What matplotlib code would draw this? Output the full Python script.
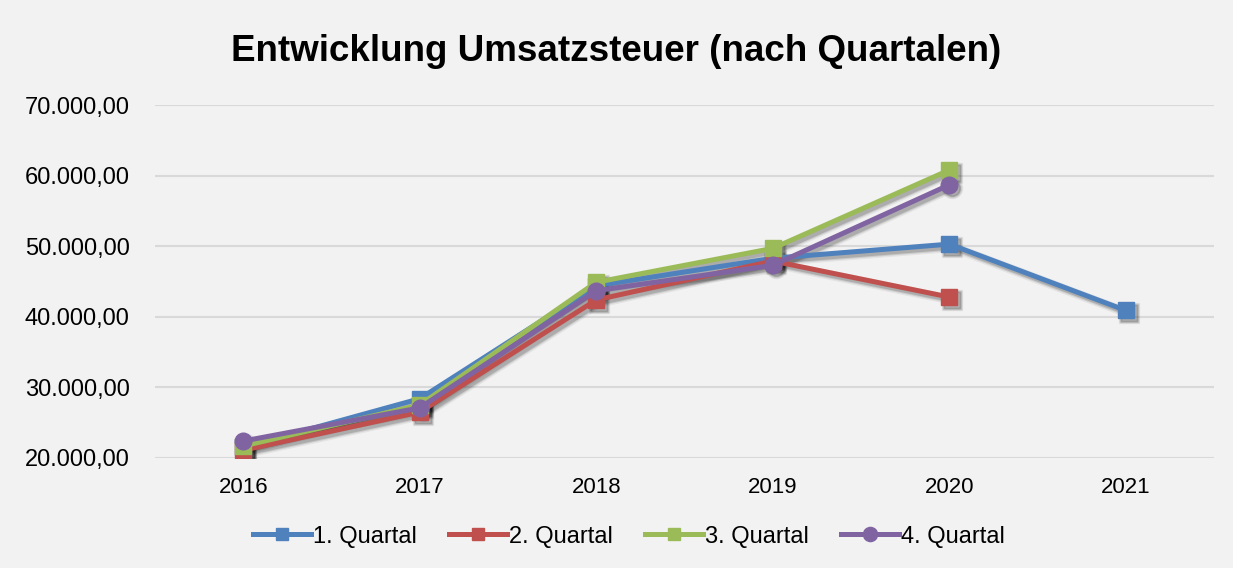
import numpy as np
import matplotlib.pyplot as plt
from matplotlib.transforms import offset_copy
from matplotlib.ticker import FuncFormatter
plt.switch_backend('Agg')

plt.rcParams['font.family'] = ['Liberation Sans', 'DejaVu Sans']

years = ['2016', '2017', '2018', '2019', '2020', '2021']
q1 = [21500, 28400, 44400, 48300, 50300, 40900]
q2 = [21100, 26500, 42400, 47900, 42800]
q3 = [21700, 27500, 44900, 49700, 60800]
q4 = [22400, 27100, 43700, 47300, 58700]

series = [
    ('1. Quartal', q1, '#4f81bd', 's'),
    ('2. Quartal', q2, '#c0504d', 's'),
    ('3. Quartal', q3, '#9bbb59', 's'),
    ('4. Quartal', q4, '#8064a2', 'o'),
]


def de_format(v, pos):
    # 70000 -> 70.000,00
    return '{:,.2f}'.format(v).replace(',', 'X').replace('.', ',').replace('X', '.')


bg = '#f2f2f2'
fig = plt.figure(figsize=(12.33, 5.68), dpi=100, facecolor=bg)
ax = fig.add_axes([0.1257, 0.1937, 0.859, 0.6213])
ax.set_facecolor(bg)

x = np.arange(len(years))
# soft drop shadows first, then the series on top
shadow_tr = offset_copy(ax.transData, fig=fig, x=3, y=-3, units='dots')
for label, vals, color, marker in series:
    for lw, a in [(7, 0.06), (5, 0.10), (3.5, 0.15)]:
        ax.plot(x[:len(vals)], vals, color='black', lw=lw, marker=marker,
                markersize=11 + lw - 3.5, alpha=a, transform=shadow_tr, zorder=2,
                solid_joinstyle='round')
for label, vals, color, marker in series:
    ax.plot(x[:len(vals)], vals, color=color, lw=3.6, marker=marker,
            markersize=11 if marker == 's' else 12, label=label, zorder=3)

ax.set_xlim(-0.5, len(years) - 0.5)
ax.set_ylim(20000, 70000)
ax.set_yticks(np.arange(20000, 70001, 10000))
ax.yaxis.set_major_formatter(FuncFormatter(de_format))
ax.set_xticks(x)
ax.set_xticklabels(years)
ax.tick_params(axis='both', length=0, colors='black')
ax.tick_params(axis='x', pad=14, labelsize=16)
ax.tick_params(axis='y', pad=93.6, labelsize=17)
for lbl in ax.get_yticklabels():
    lbl.set_horizontalalignment('left')
ax.grid(axis='y', color='#d9d9d9', lw=1.5)
ax.set_axisbelow(True)
for s in ax.spines.values():
    s.set_visible(False)

fig.suptitle('Entwicklung Umsatzsteuer (nach Quartalen)', fontsize=26.5,
             fontweight='bold', y=0.94)
fig.legend(loc='center', bbox_to_anchor=(0.51, 0.055), ncol=4, frameon=False,
           fontsize=17, handlelength=2.45, handletextpad=0.1, columnspacing=1.35,
           markerscale=0.85)

fig.savefig('out.png', dpi=100, facecolor=bg)
